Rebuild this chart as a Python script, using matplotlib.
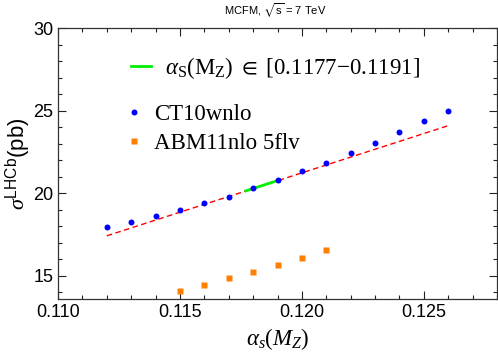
import matplotlib as mpl
mpl.use('Agg')
import matplotlib.pyplot as plt
from matplotlib.ticker import MultipleLocator

# data
alpha_ct10 = [0.112, 0.113, 0.114, 0.115, 0.116, 0.117, 0.118, 0.119,
              0.120, 0.121, 0.122, 0.123, 0.124, 0.125, 0.126]
sigma_ct10 = [17.93, 18.27, 18.60, 19.00, 19.38, 19.80, 20.33, 20.80,
              21.32, 21.80, 22.45, 23.04, 23.69, 24.35, 25.00]
alpha_abm = [0.115, 0.116, 0.117, 0.118, 0.119, 0.120, 0.121]
sigma_abm = [14.09, 14.43, 14.84, 15.24, 15.67, 16.09, 16.58]
fit_x = [0.112, 0.126]
fit_y = [17.42, 24.09]
band_x = [0.1177, 0.1191]
band_y = [20.14, 20.81]

plt.rcParams['mathtext.fontset'] = 'custom'
plt.rcParams['mathtext.rm'] = 'Liberation Serif'
plt.rcParams['mathtext.it'] = 'Liberation Serif:italic'
plt.rcParams['mathtext.sf'] = 'Liberation Sans'
plt.rcParams['mathtext.fallback'] = 'stix'
plt.rcParams['font.family'] = ['Liberation Sans', 'DejaVu Sans']

fig = plt.figure(figsize=(4.98, 3.55), dpi=100)
ax = fig.add_axes([0.1165, 0.158, 0.8815, 0.763])

ax.plot(fit_x, fit_y, color='#ff0000', ls=(0, (4, 2.5)), lw=1.0, zorder=2)
green, = ax.plot(band_x, band_y, color='#00ee00', lw=2.0, zorder=3,
                 label=r'$\alpha_{\mathrm{S}}(\mathrm{M_Z})\ \in\ [0.1177{-}0.1191]$')
ct, = ax.plot(alpha_ct10, sigma_ct10, 'o', color='#0000ff', ms=4.3, mec='none',
              zorder=4, label='CT10wnlo')
abm, = ax.plot(alpha_abm, sigma_abm, 's', color='#ff7f00', ms=3.8, mec='none',
               zorder=4, label='ABM11nlo 5flv')

ax.set_xlim(0.110, 0.128)
ax.set_ylim(13.6, 30)
ax.xaxis.set_major_locator(MultipleLocator(0.005))
ax.xaxis.set_minor_locator(MultipleLocator(0.001))
ax.yaxis.set_major_locator(MultipleLocator(5))
ax.yaxis.set_minor_locator(MultipleLocator(1))
ax.xaxis.set_major_formatter(mpl.ticker.FormatStrFormatter('%.3f'))
ax.tick_params(which='both', direction='in', top=True, right=True,
               labelsize=13, width=0.8, colors='#222222', labelcolor='black')
ax.tick_params(which='major', length=6)
ax.tick_params(which='minor', length=3)
for s in ax.spines.values():
    s.set_linewidth(0.9)
    s.set_color('#333333')

ax.set_xlabel(r'$\alpha_s(M_Z)$', fontsize=16.5, labelpad=4)
ax.set_ylabel(r'$\sigma^{\mathsf{LHCb}}\mathsf{(pb)}$', fontsize=16, labelpad=1)
fig.text(0.553, 0.97, r'MCFM, $\sqrt{\mathsf{s}}$ = 7 TeV', ha='center', va='center',
         fontsize=8)

serif = {'family': 'Liberation Serif', 'size': 16.5}
leg1 = ax.legend(handles=[green], loc='upper left', bbox_to_anchor=(0.145, 0.935),
                 frameon=False, prop=serif, handlelength=0.9, handletextpad=0.6,
                 borderaxespad=0)
ax.add_artist(leg1)
ax.legend(handles=[ct, abm], loc='upper left', bbox_to_anchor=(0.14, 0.755),
          frameon=False, prop=serif, handlelength=0.5, handletextpad=0.6,
          labelspacing=0.35, borderaxespad=0)

fig.savefig('out.png', dpi=100)
